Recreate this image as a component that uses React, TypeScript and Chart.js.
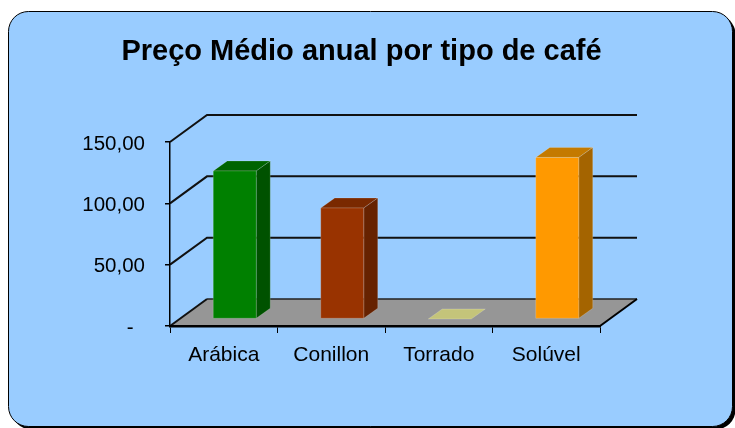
import React, { useEffect, useRef } from "react";
import { Chart, registerables } from "chart.js";

Chart.register(...registerables);

const titleText = "Preço Médio anual por tipo de café";
const categories = ["Arábica", "Conillon", "Torrado", "Solúvel"];
const values = [120.7, 90.5, 0, 131.7];
const yTicks = [0, 50, 100, 150];
const frontColors = ["#008000", "#993300", "#FFFF99", "#FF9900"];
const topColors = ["#006400", "#7A2900", "#C4C47A", "#C47A00"];
const sideColors = ["#005200", "#662200", "#A8A860", "#A46400"];

const FONT = "'Liberation Sans', Arial, sans-serif";
const DX = 37;
const DY = -27;
const FRONT = { x: 11, y: -7 };
const BACK = { x: 25, y: -17 };

function roundRect(ctx: CanvasRenderingContext2D, x: number, y: number, w: number, h: number, r: number) {
  ctx.beginPath();
  ctx.moveTo(x + r, y);
  ctx.lineTo(x + w - r, y);
  ctx.arcTo(x + w, y, x + w, y + r, r);
  ctx.lineTo(x + w, y + h - r);
  ctx.arcTo(x + w, y + h, x + w - r, y + h, r);
  ctx.lineTo(x + r, y + h);
  ctx.arcTo(x, y + h, x, y + h - r, r);
  ctx.lineTo(x, y + r);
  ctx.arcTo(x, y, x + r, y, r);
  ctx.closePath();
}

const scenePlugin = {
  id: "scene3d",
  beforeDraw(chart: any) {
    const ctx: CanvasRenderingContext2D = chart.ctx;
    const { left, right, bottom } = chart.chartArea;
    const ys = chart.scales.y;
    ctx.save();
    ctx.fillStyle = "#ffffff";
    ctx.fillRect(0, 0, chart.width, chart.height);
    roundRect(ctx, 11.5, 14.5, 724, 415, 20);
    ctx.fillStyle = "#000000";
    ctx.fill();
    roundRect(ctx, 8.5, 11.5, 724, 415, 20);
    ctx.fillStyle = "#99CCFF";
    ctx.fill();
    ctx.lineWidth = 1;
    ctx.strokeStyle = "#000000";
    ctx.stroke();

    // floor
    ctx.beginPath();
    ctx.moveTo(left, bottom);
    ctx.lineTo(left + DX, bottom + DY);
    ctx.lineTo(right + DX, bottom + DY);
    ctx.lineTo(right, bottom);
    ctx.closePath();
    ctx.fillStyle = "#969696";
    ctx.fill();
    ctx.strokeStyle = "#222222";
    ctx.lineWidth = 1.5;
    ctx.beginPath();
    ctx.moveTo(left + DX, bottom + DY);
    ctx.lineTo(right + DX, bottom + DY);
    ctx.stroke();
    ctx.strokeStyle = "#000000";
    ctx.lineWidth = 2;
    ctx.beginPath();
    ctx.moveTo(right, bottom);
    ctx.lineTo(right + DX, bottom + DY);
    ctx.stroke();

    // walls: gridlines
    ctx.strokeStyle = "#111111";
    ctx.lineWidth = 2;
    yTicks.forEach((v) => {
      const py = ys.getPixelForValue(v);
      ctx.beginPath();
      ctx.moveTo(left, py);
      ctx.lineTo(left + DX, py + DY);
      if (v > 0) ctx.lineTo(right + DX, py + DY);
      ctx.stroke();
    });
    ctx.restore();
  },
  beforeDatasetsDraw(chart: any) {
    const ctx: CanvasRenderingContext2D = chart.ctx;
    const meta = chart.getDatasetMeta(0);
    ctx.save();
    ctx.lineWidth = 1;
    ctx.strokeStyle = "rgba(255,255,255,0.18)";
    meta.data.forEach((el: any, i: number) => {
      const { x, y, base, width } = el.getProps(["x", "y", "base", "width"], true);
      const xl = x - width / 2;
      const xr = x + width / 2;
      const h = base - y;
      ctx.beginPath();
      ctx.moveTo(xl + FRONT.x, y + FRONT.y);
      ctx.lineTo(xr + FRONT.x, y + FRONT.y);
      ctx.lineTo(xr + BACK.x, y + BACK.y);
      ctx.lineTo(xl + BACK.x, y + BACK.y);
      ctx.closePath();
      ctx.fillStyle = topColors[i];
      ctx.fill();
      ctx.stroke();
      if (h > 0.5) {
        ctx.beginPath();
        ctx.moveTo(xr + FRONT.x, y + FRONT.y);
        ctx.lineTo(xr + BACK.x, y + BACK.y);
        ctx.lineTo(xr + BACK.x, base + BACK.y);
        ctx.lineTo(xr + FRONT.x, base + FRONT.y);
        ctx.closePath();
        ctx.fillStyle = sideColors[i];
        ctx.fill();
        ctx.stroke();
        ctx.beginPath();
        ctx.rect(xl + FRONT.x, y + FRONT.y, width, h);
        ctx.fillStyle = frontColors[i];
        ctx.fill();
        ctx.stroke();
      }
    });
    ctx.restore();
    return false;
  },
};

export default function App() {
  const ref = useRef<HTMLCanvasElement | null>(null);
  useEffect(() => {
    if (!ref.current) return;
    const chart = new Chart(ref.current, {
      type: "bar",
      data: {
        labels: categories,
        datasets: [
          {
            data: values,
            backgroundColor: frontColors,
            barPercentage: 0.4,
            categoryPercentage: 1,
          },
        ],
      },
      options: {
        animation: false,
        responsive: false,
        devicePixelRatio: 1,
        layout: { padding: { left: 0, right: 12, top: 0, bottom: 62 } },
        plugins: {
          legend: { display: false },
          tooltip: { enabled: false },
          title: {
            display: true,
            text: titleText,
            color: "#000000",
            font: { family: FONT, size: 29, weight: "bold", lineHeight: 1.2 },
            padding: { top: 35, bottom: 72.2 },
          },
        },
        scales: {
          x: {
            type: "category",
            grid: {
              offset: true,
              drawOnChartArea: false,
              drawTicks: true,
              tickLength: 7,
              color: "#000000",
              lineWidth: 1,
            },
            border: { display: true, color: "#000000", width: 2.5 },
            ticks: {
              color: "#000000",
              padding: 10,
              font: { family: FONT, size: 21, lineHeight: 1.2 },
              maxRotation: 0,
            },
            afterFit(s: any) {
              s.height = 40;
            },
          },
          y: {
            type: "linear",
            position: "left",
            min: 0,
            max: 150,
            afterBuildTicks(s: any) {
              s.ticks = yTicks.map((v) => ({ value: v }));
            },
            grid: {
              drawOnChartArea: false,
              drawTicks: true,
              tickLength: 5,
              color: "#000000",
              lineWidth: 1.5,
            },
            border: { display: true, color: "#000000", width: 1.5 },
            ticks: {
              color: "#000000",
              padding: 20,
              font: { family: FONT, size: 20.5, lineHeight: "4px" },
              callback: (v: any) => ["", Number(v) === 0 ? "-  " : Number(v).toFixed(2).replace(".", ",")],
            },
            afterFit(s: any) {
              s.width = 170;
            },
          },
          yR: {
            type: "linear",
            position: "right",
            display: true,
            grid: { display: false },
            border: { display: false },
            ticks: { display: false },
            afterFit(s: any) {
              s.width = 123;
            },
          },
        },
      },
      plugins: [scenePlugin],
    });
    return () => chart.destroy();
  }, []);
  return (
    <div style={{ position: "fixed", left: 0, top: 0, width: 735, height: 428 }}>
      <canvas ref={ref} width={735} height={428} style={{ display: "block" }} />
    </div>
  );
}
